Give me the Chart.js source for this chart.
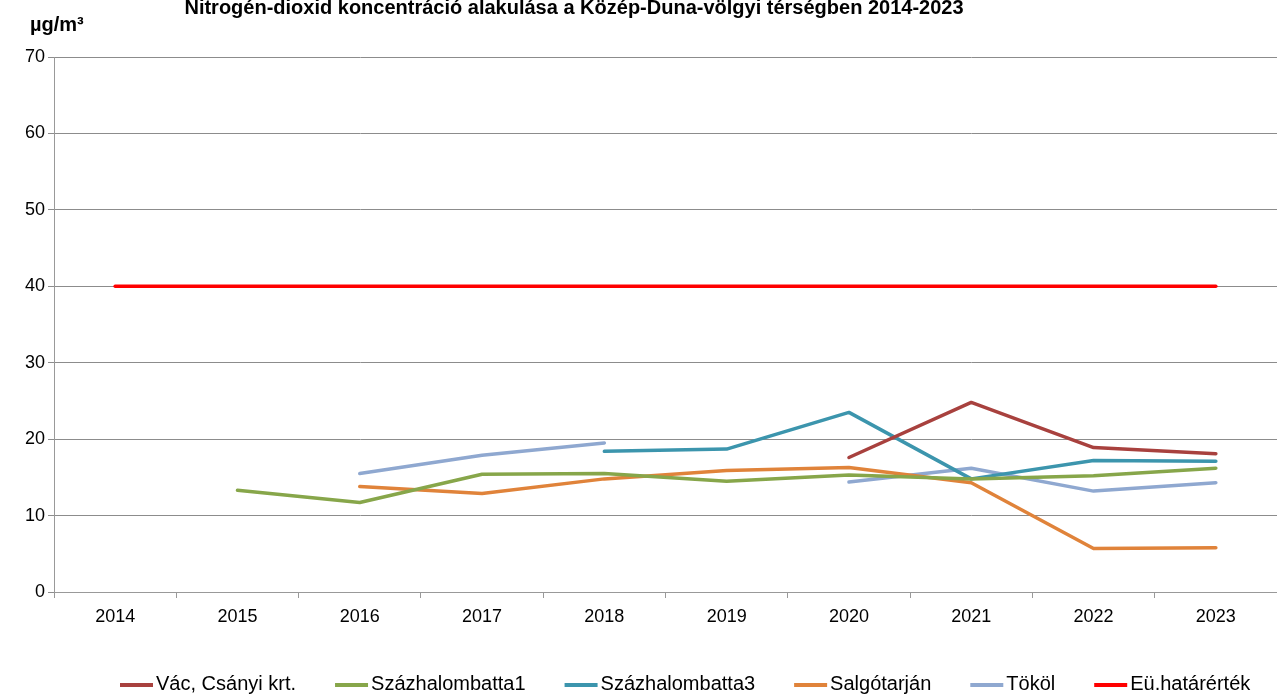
<!DOCTYPE html>
<html>
<head>
<meta charset="utf-8">
<script src="https://cdn.jsdelivr.net/npm/chart.js@4/dist/chart.umd.min.js"></script>
<style>
  html, body { margin: 0; padding: 0; background: #fff; }
  #wrap { width: 1277px; height: 697px; }
</style>
</head>
<body>
<div id="wrap"><canvas id="no2Chart" width="1277" height="697"></canvas></div>
<script>
const years = ["2014", "2015", "2016", "2017", "2018", "2019", "2020", "2021", "2022", "2023"]

const vac = [null, null, null, null, null, null, 17.6, 24.8, 18.9, 18.1]
const szazhalombatta1 = [null, 13.3, 11.7, 15.4, 15.5, 14.5, 15.3, 14.8, 15.2, 16.2]
const szazhalombatta3 = [null, null, null, null, 18.4, 18.7, 23.5, 14.8, 17.2, 17.1]
const salgotarjan = [null, null, 13.8, 12.9, 14.8, 15.9, 16.3, 14.3, 5.7, 5.8]
const tokol = [null, null, 15.5, 17.9, 19.5, null, 14.4, 16.2, 13.2, 14.3]
const hatarertek = [40, 40, 40, 40, 40, 40, 40, 40, 40, 40]

const FONT = "'Liberation Sans', Arial, sans-serif"
Chart.defaults.font.family = FONT
Chart.defaults.color = '#000'

function series(label, data, color) {
  return {
    label: label,
    data: data,
    borderColor: color,
    backgroundColor: color,
    borderWidth: 3.5,
    pointRadius: 0,
    pointHoverRadius: 0,
    tension: 0,
    spanGaps: false,
    borderCapStyle: 'round',
    borderJoinStyle: 'round'
  }
}

// title and unit label above the plot
const headerText = {
  id: 'headerText',
  afterDraw(chart) {
    const ctx = chart.ctx
    ctx.save()
    ctx.fillStyle = '#000'
    ctx.textBaseline = 'alphabetic'
    ctx.textAlign = 'center'
    ctx.font = `bold 20px ${FONT}`
    ctx.fillText('Nitrogén-dioxid koncentráció alakulása a Közép-Duna-völgyi térségben 2014-2023', 574, 14)
    ctx.textAlign = 'left'
    ctx.font = `bold 20px ${FONT}`
    ctx.fillText('µg/m³', 30, 31)
    ctx.restore()
  }
}

// legend row: short line sample, text right after it
const lineLegend = {
  id: 'lineLegend',
  afterDraw(chart) {
    const ctx = chart.ctx
    const sample = 33, textGap = 3, itemGap = 39
    let x = 120
    const y = 685
    ctx.save()
    ctx.font = `20px ${FONT}`
    ctx.textBaseline = 'middle'
    ctx.textAlign = 'left'
    chart.data.datasets.forEach(ds => {
      ctx.strokeStyle = ds.borderColor
      ctx.lineWidth = 4
      ctx.beginPath()
      ctx.moveTo(x, y)
      ctx.lineTo(x + sample, y)
      ctx.stroke()
      x += sample + textGap
      ctx.fillStyle = '#000'
      ctx.fillText(ds.label, x, y - 1)
      x += ctx.measureText(ds.label).width + itemGap
    })
    ctx.restore()
  }
}

new Chart(document.getElementById('no2Chart'), {
  type: 'line',
  data: {
    labels: years,
    datasets: [
      series('Vác, Csányi krt.', vac, '#A8413E'),
      series('Százhalombatta1', szazhalombatta1, '#87A64A'),
      series('Százhalombatta3', szazhalombatta3, '#3C95AD'),
      series('Salgótarján', salgotarjan, '#E0833A'),
      series('Tököl', tokol, '#8FA8D0'),
      series('Eü.határérték', hatarertek, '#FF0000')
    ]
  },
  plugins: [headerText, lineLegend],
  options: {
    responsive: false,
    animation: false,
    layout: { padding: { top: 57, right: 0, left: 0, bottom: 0 } },
    plugins: {
      title: { display: false },
      tooltip: { enabled: false },
      legend: { display: false }
    },
    scales: {
      x: {
        offset: true,
        grid: {
          offset: true,
          drawOnChartArea: false,
          drawTicks: true,
          tickLength: 6,
          color: '#999'
        },
        border: { color: '#999', width: 1 },
        ticks: { color: '#000', font: { size: 18 }, padding: 8, maxRotation: 0 },
        afterFit(scale) { scale.height = 105 }
      },
      y: {
        min: 0,
        max: 70,
        ticks: { stepSize: 10, color: '#000', font: { size: 18 }, padding: 3 },
        grid: { color: '#8c8c8c', tickLength: 6 },
        border: { color: '#999', width: 1 },
        afterFit(scale) { scale.width = 54 }
      }
    }
  }
})
</script>
</body>
</html>
